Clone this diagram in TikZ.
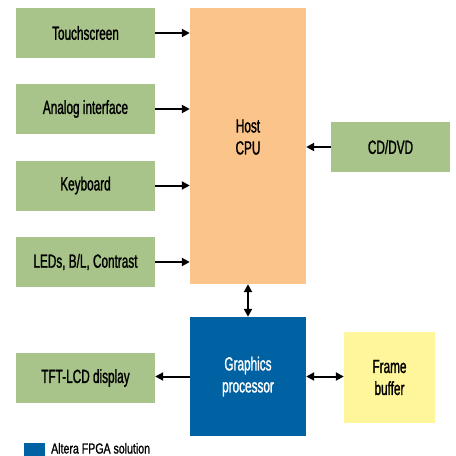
\documentclass[tikz,border=0pt]{standalone}
\usepackage{fontspec}
\setmainfont{Liberation Sans}[FakeStretch=0.62, FakeBold=1.2]
\newfontfamily\keyfont{Liberation Sans}[FakeStretch=0.73, FakeBold=1.2]
\usetikzlibrary{arrows.meta, positioning}
\definecolor{boxgreen}{RGB}{168,196,138}
\definecolor{cpuorange}{RGB}{250,196,138}
\definecolor{fpgablue}{RGB}{0,98,163}
\definecolor{bufyellow}{RGB}{255,246,155}
\tikzset {
    x=1pt, y=-1pt,
    >={Triangle[length=8pt,width=8pt]},
    every node/.style={font=\fontsize{19}{22}\selectfont},
    io/.style={fill=boxgreen, minimum width=139pt, minimum height=50pt, inner sep=0pt},
    link/.style={line width=2pt}
}

\begin{document}
\begin{tikzpicture}
    \useasboundingbox (0,0) rectangle (456,456);

    \node[io] (ts) at (85.5,33) {Touchscreen};
    \node[io] (ai) at (85.5,109) {Analog interface};
    \node[io] (kb) at (85.5,185.5) {Keyboard};
    \node[io] (led) at (85.5,262) {LEDs, B/L, Contrast};
    \node[io] (tft) at (85.5,378) {TFT-LCD display};

    \node[fill=cpuorange, minimum width=116pt, minimum height=276pt] (cpu) at (248,146) {};
    \node[align=center] (cputext) at (248,137) {Host\\CPU};
    \node[io, minimum width=119pt] (cd) at (390.5,147) {CD/DVD};
    \node[fill=fpgablue, text=white, minimum width=116pt, minimum height=119pt, align=center] (gp) at (248,376.5) {Graphics\\processor};
    \node[fill=bufyellow, minimum width=91pt, minimum height=91pt, align=center] (fb) at (389.5,377.5) {Frame\\buffer};

    % legend
    \node[fill=fpgablue, minimum width=21pt, minimum height=13pt, inner sep=0pt] (key) at (34.5,449.5) {};
    \node[anchor=base west, inner sep=0pt, font=\keyfont\fontsize{14.5}{17}\selectfont] (keytext) at (51,453.5) {Altera FPGA solution};

    \draw[link, ->] (ts.east) -- (ts.east -| cpu.west);
    \draw[link, ->] (ai.east) -- (ai.east -| cpu.west);
    \draw[link, ->] (kb.east) -- (kb.east -| cpu.west);
    \draw[link, ->] (led.east) -- (led.east -| cpu.west);
    \draw[link, ->] (cd.west) -- (cd.west -| cpu.east);
    \draw[link, <->] (cpu.south) -- (gp.north);
    \draw[link, <->] (gp.east) -- (gp.east -| fb.west);
    \draw[link, ->] (gp.west) -- (gp.west -| tft.east);
\end{tikzpicture}
\end{document}
